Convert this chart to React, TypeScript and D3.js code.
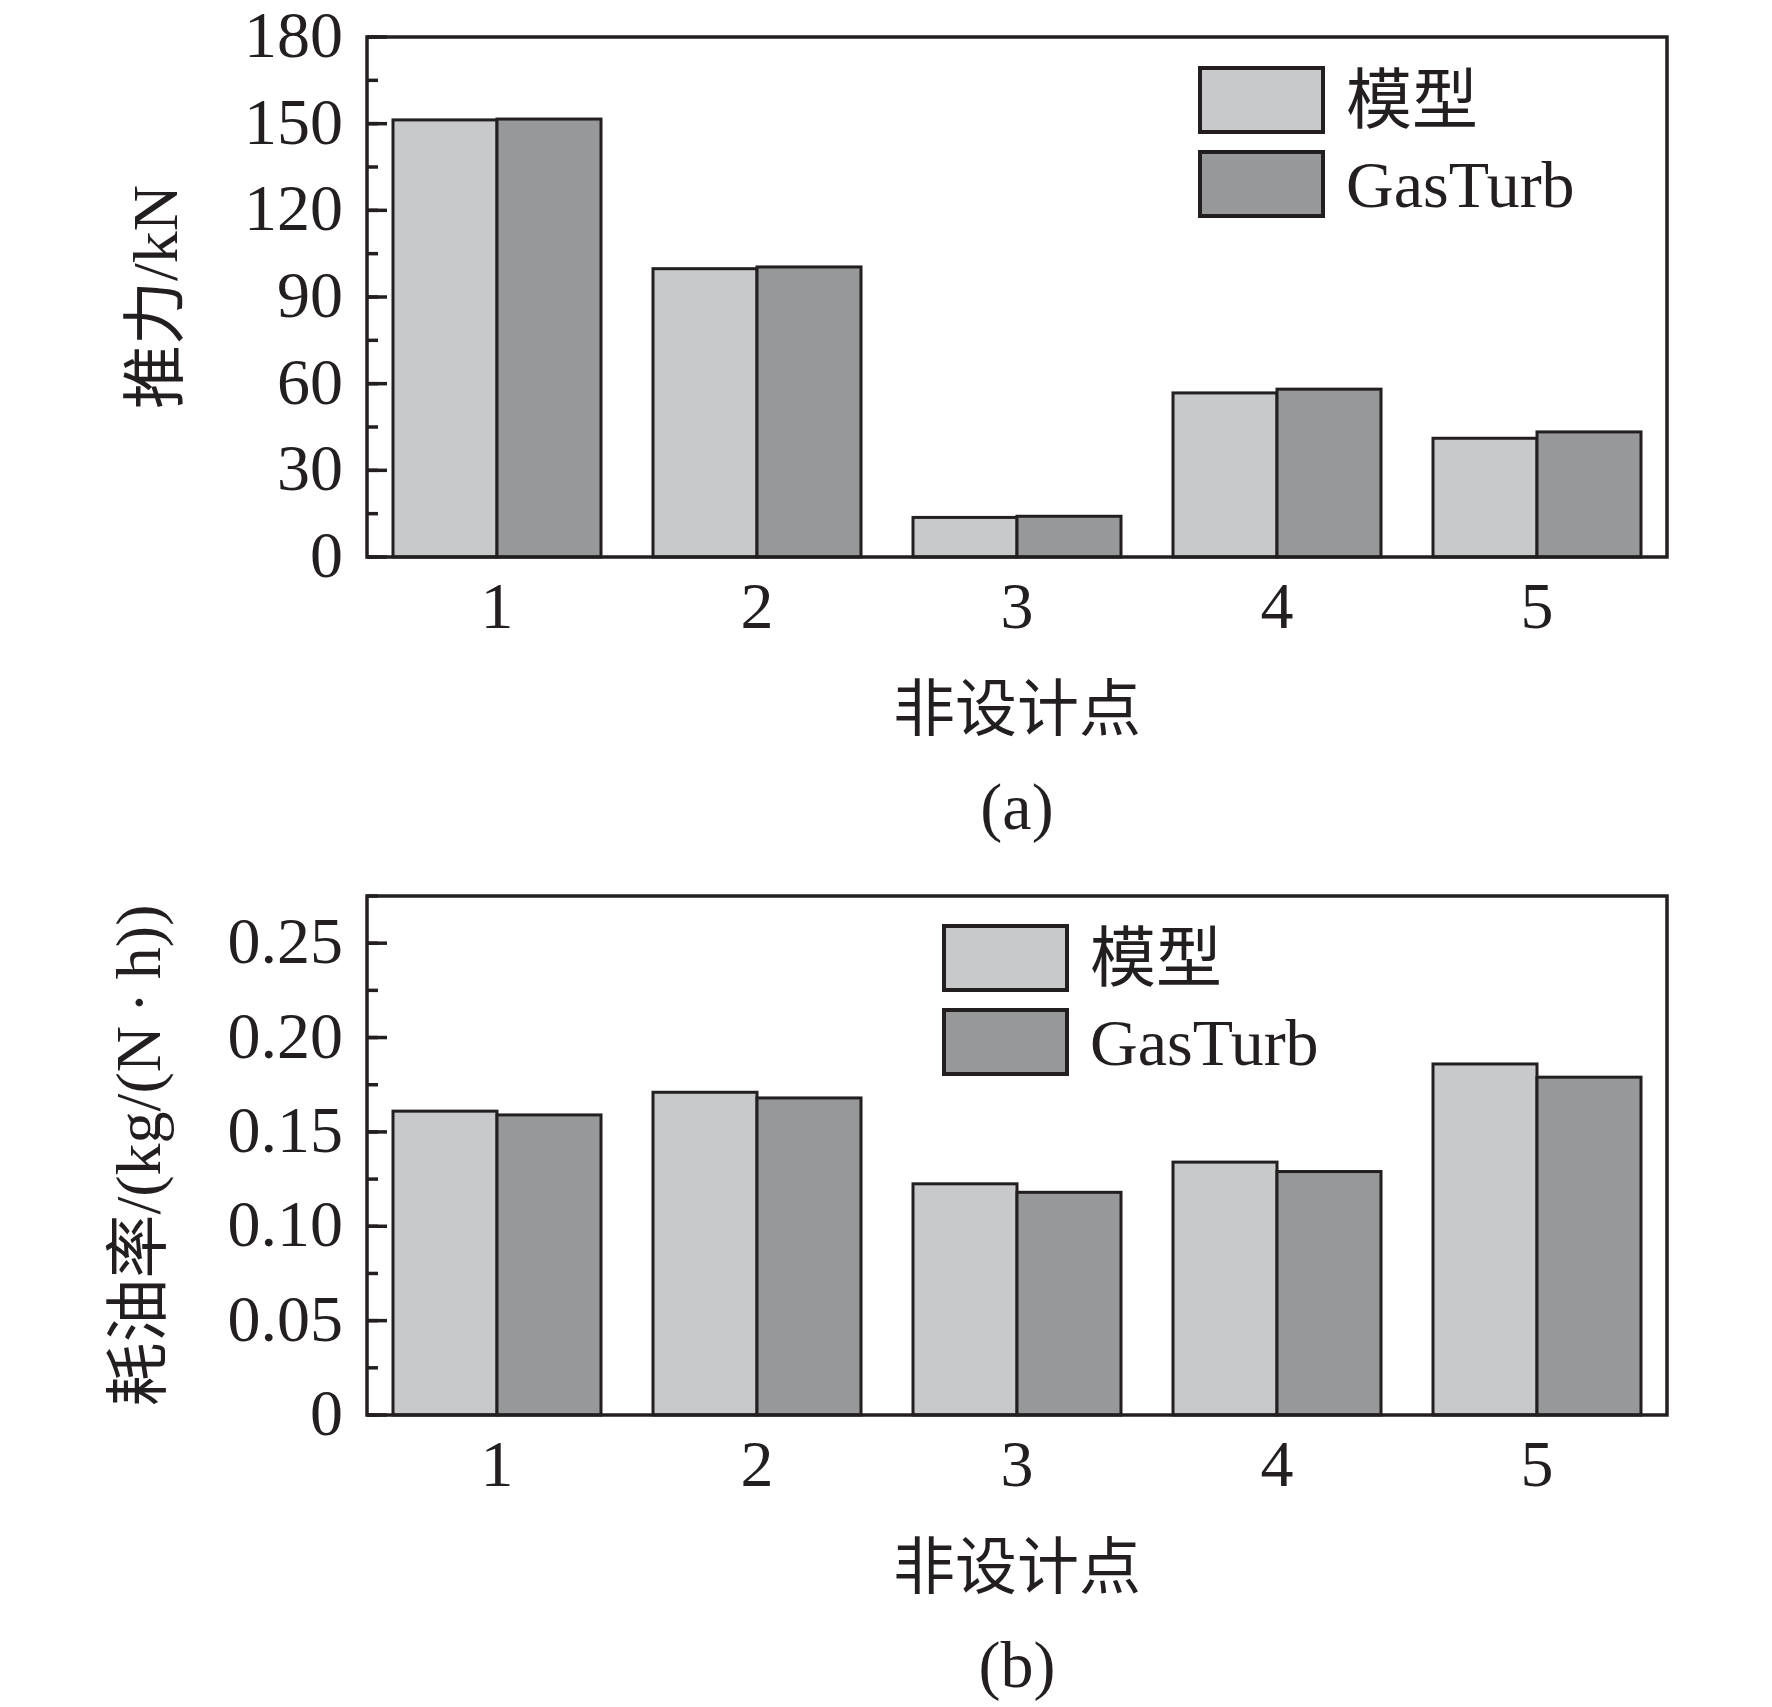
import * as d3 from "d3";
import { useEffect, useRef } from "react";

// categories (off-design points)
const categories = ["1", "2", "3", "4", "5"];
const seriesNames = ["模型", "GasTurb"];

// thrust, kN
const thrustModel = [151.3, 99.8, 13.7, 56.8, 41.1];
const thrustGasTurb = [151.6, 100.4, 14.1, 58.1, 43.3];

// specific fuel consumption, kg/(N·h)
const sfcModel = [0.161, 0.171, 0.1225, 0.134, 0.186];
const sfcGasTurb = [0.159, 0.168, 0.118, 0.129, 0.179];

const thrustTicks = [0, 30, 60, 90, 120, 150, 180];
const sfcTicks = [0, 0.05, 0.1, 0.15, 0.2, 0.25];

const W = 1772;
const H = 1707;
const FONT = "'Liberation Serif', 'Times New Roman', 'Noto Sans CJK SC', serif";
const COLORS = ["#c8c9cb", "#97989a"];
const INK = "#231f20";

interface PanelSpec {
  top: number;
  bottom: number;
  domainMax: number;
  majorTicks: number[];
  minorStep: number;
  fmt: (v: number) => string;
  series: number[][];
  yLabel: string;
  yLabelX: number;
  legendX: number;
  legendY: number;
  caption: string;
}

const panels: PanelSpec[] = [
  {
    top: 37,
    bottom: 557,
    domainMax: 180,
    majorTicks: thrustTicks,
    minorStep: 15,
    fmt: (v) => String(v),
    series: [thrustModel, thrustGasTurb],
    yLabel: "推力/kN",
    yLabelX: 155,
    legendX: 1200,
    legendY: 68,
    caption: "(a)",
  },
  {
    top: 896,
    bottom: 1415,
    domainMax: 0.275,
    majorTicks: sfcTicks,
    minorStep: 0.025,
    fmt: (v) => (v === 0 ? "0" : d3.format(".2f")(v)),
    series: [sfcModel, sfcGasTurb],
    yLabel: "耗油率/(kg/(N\u2009·\u2009h))",
    yLabelX: 138,
    legendX: 944,
    legendY: 926,
    caption: "(b)",
  },
];

const LEFT = 367;
const RIGHT = 1667;

export default function App() {
  const svgRef = useRef<SVGSVGElement>(null);

  useEffect(() => {
    const svg = d3.select(svgRef.current);
    svg.selectAll("*").remove();

    const x = d3
      .scaleBand()
      .domain(categories)
      .range([LEFT, RIGHT])
      .paddingInner(0.2)
      .paddingOuter(0.1);
    const xSub = d3
      .scaleBand()
      .domain(seriesNames)
      .range([0, x.bandwidth()]);

    panels.forEach((p) => {
      const g = svg.append("g");
      const y = d3.scaleLinear().domain([0, p.domainMax]).range([p.bottom, p.top]);

      // bars
      categories.forEach((c, i) => {
        p.series.forEach((vals, s) => {
          g.append("rect")
            .attr("x", x(c)! + xSub(seriesNames[s])!)
            .attr("y", y(vals[i]))
            .attr("width", xSub.bandwidth())
            .attr("height", y(0) - y(vals[i]))
            .attr("fill", COLORS[s])
            .attr("stroke", INK)
            .attr("stroke-width", 3);
        });
      });

      // minor ticks (inward)
      const minor = d3.range(0, p.domainMax + 1e-9, p.minorStep);
      g.selectAll(".minor")
        .data(minor)
        .join("line")
        .attr("x1", LEFT)
        .attr("x2", LEFT + 11)
        .attr("y1", (d) => y(d))
        .attr("y2", (d) => y(d))
        .attr("stroke", INK)
        .attr("stroke-width", 3.5);

      // major ticks + labels
      g.selectAll(".major")
        .data(p.majorTicks)
        .join("line")
        .attr("x1", LEFT)
        .attr("x2", LEFT + 20)
        .attr("y1", (d) => y(d))
        .attr("y2", (d) => y(d))
        .attr("stroke", INK)
        .attr("stroke-width", 3.5);

      g.selectAll(".ylab")
        .data(p.majorTicks)
        .join("text")
        .attr("x", LEFT - 24)
        .attr("y", (d) => y(d) + 20)
        .attr("text-anchor", "end")
        .attr("font-family", FONT)
        .attr("font-size", 66)
        .attr("fill", INK)
        .text((d) => p.fmt(d));

      // frame
      g.append("rect")
        .attr("x", LEFT)
        .attr("y", p.top)
        .attr("width", RIGHT - LEFT)
        .attr("height", p.bottom - p.top)
        .attr("fill", "none")
        .attr("stroke", INK)
        .attr("stroke-width", 3.5);

      // x tick labels
      g.selectAll(".xlab")
        .data(categories)
        .join("text")
        .attr("x", (d) => x(d)! + x.bandwidth() / 2)
        .attr("y", p.bottom + 71)
        .attr("text-anchor", "middle")
        .attr("font-family", FONT)
        .attr("font-size", 66)
        .attr("fill", INK)
        .text((d) => d);

      // x title
      g.append("text")
        .attr("x", (LEFT + RIGHT) / 2)
        .attr("y", p.bottom + 174)
        .attr("text-anchor", "middle")
        .attr("font-family", FONT)
        .attr("font-size", 62)
        .attr("fill", INK)
        .text("非设计点");

      // caption
      g.append("text")
        .attr("x", (LEFT + RIGHT) / 2)
        .attr("y", p.bottom + 272)
        .attr("text-anchor", "middle")
        .attr("font-family", FONT)
        .attr("font-size", 66)
        .attr("fill", INK)
        .text(p.caption);

      // y title
      const cy = (p.top + p.bottom) / 2;
      g.append("text")
        .attr("transform", `translate(${p.yLabelX},${cy}) rotate(-90)`)
        .attr("text-anchor", "middle")
        .attr("dominant-baseline", "central")
        .attr("font-family", FONT)
        .attr("font-size", 64)
        .attr("fill", INK)
        .text(p.yLabel);

      // legend
      seriesNames.forEach((name, s) => {
        const ly = p.legendY + s * 84;
        g.append("rect")
          .attr("x", p.legendX)
          .attr("y", ly)
          .attr("width", 123)
          .attr("height", 64)
          .attr("fill", COLORS[s])
          .attr("stroke", INK)
          .attr("stroke-width", 4);
        g.append("text")
          .attr("x", p.legendX + 146)
          .attr("y", ly + 55)
          .attr("font-family", FONT)
          .attr("font-size", 66)
          .attr("fill", INK)
          .text(name);
      });
    });
  }, []);

  return (
    <svg
      ref={svgRef}
      width={W}
      height={H}
      style={{ position: "absolute", left: 0, top: 0, background: "#fff" }}
    />
  );
}
